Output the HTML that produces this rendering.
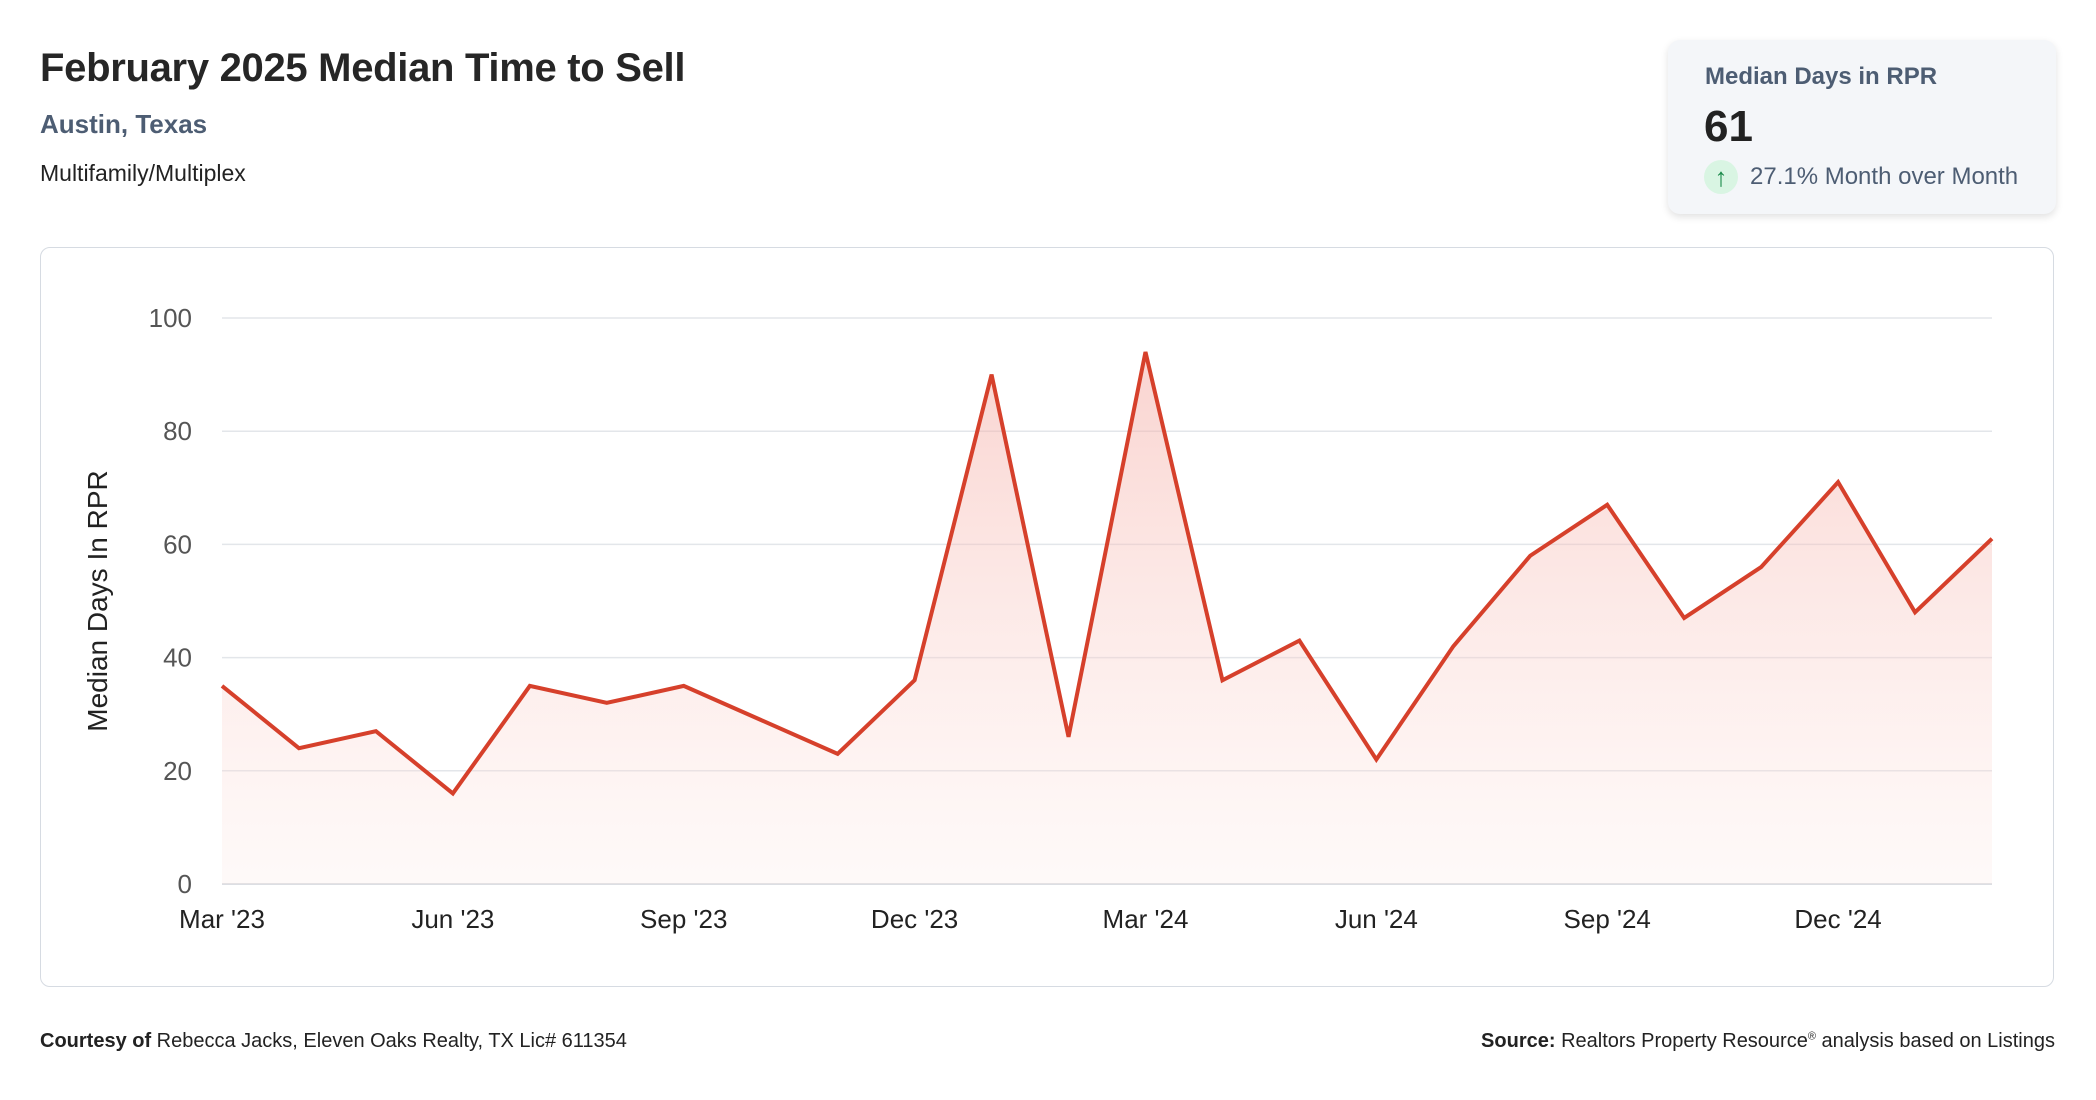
<!DOCTYPE html>
<html><head><meta charset="utf-8"><style>
body{margin:0;width:2096px;height:1100px;background:#fff;font-family:"Liberation Sans",sans-serif;position:relative;overflow:hidden;color:#222}
.a{position:absolute;white-space:nowrap}
</style></head><body>
<div class="a" style="left:40px;top:46px;font-size:40px;font-weight:bold;color:#262626;letter-spacing:-0.3px">February 2025 Median Time to Sell</div>
<div class="a" style="left:40px;top:109px;font-size:26px;font-weight:bold;color:#4d5d73">Austin, Texas</div>
<div class="a" style="left:40px;top:160px;font-size:23px;color:#222">Multifamily/Multiplex</div>
<div class="a" style="left:1668px;top:40px;width:388px;height:174px;background:#f4f6f9;border-radius:12px;box-shadow:0 3px 8px rgba(0,0,0,.12)">
  <div class="a" style="left:37px;top:23px;font-size:24px;font-weight:bold;color:#4d5d73">Median Days in RPR</div>
  <div class="a" style="left:36px;top:62px;font-size:44px;font-weight:bold;color:#222">61</div>
  <div class="a" style="left:36px;top:120px;width:34px;height:34px;border-radius:50%;background:#d9f5e3;color:#1a8a4a;font-size:26px;text-align:center;line-height:34px">↑</div>
  <div class="a" style="left:82px;top:123px;font-size:24px;color:#4d5d73">27.1% Month over Month</div>
</div>
<div class="a" style="left:40px;top:247px;width:2012px;height:738px;border:1.5px solid #d6dbe2;border-radius:10px"></div>
<svg class="a" style="left:0;top:0" width="2096" height="1100">
<defs><linearGradient id="g" x1="0" y1="0" x2="0" y2="1"><stop offset="0" stop-color="#f4a8a0" stop-opacity=".5"/><stop offset="1" stop-color="#fde8e4" stop-opacity=".25"/></linearGradient></defs>
<g id="grid"></g><g id="area"></g><g id="lines"></g><g id="labels"></g>
<text transform="translate(107,601) rotate(-90)" text-anchor="middle" font-size="28" fill="#222" font-family="Liberation Sans">Median Days In RPR</text>
</svg>
<div class="a" style="left:40px;top:1030px;font-size:20px;color:#222"><b>Courtesy of</b> Rebecca Jacks, Eleven Oaks Realty, TX Lic# 611354</div>
<div class="a" style="right:41px;top:1030px;font-size:20px;color:#222"><b>Source:</b> Realtors Property Resource<sup style="font-size:11px">®</sup> analysis based on Listings</div>
<script>
const months=["Mar '23","Apr '23","May '23","Jun '23","Jul '23","Aug '23","Sep '23","Oct '23","Nov '23","Dec '23","Jan '24","Feb '24","Mar '24","Apr '24","May '24","Jun '24","Jul '24","Aug '24","Sep '24","Oct '24","Nov '24","Dec '24","Jan '25","Feb '25"];
const values=[35,24,27,16,35,32,35,29,23,36,90,26,94,36,43,22,42,58,67,47,56,71,48,61];
const yTicks=[0,20,40,60,80,100];
const xTickIdx=[0,3,6,9,12,15,18,21];
const X0=222,X1=1992,Y0=884,Y1=318;
const x=i=>X0+(X1-X0)*i/(months.length-1);
const y=v=>Y0-(Y0-Y1)*v/100;
const NS="http://www.w3.org/2000/svg";
function mk(t,a,p){const e=document.createElementNS(NS,t);for(const k in a)e.setAttribute(k,a[k]);p.appendChild(e);return e;}
const grid=document.getElementById('grid'),labels=document.getElementById('labels');
yTicks.forEach(v=>{
 const l=mk('line',{x1:X0,x2:X1,y1:y(v),y2:y(v),stroke:v==0?'#d0d4da':'#e3e6ea','stroke-width':1.5},grid);
 
 
 const t=mk('text',{x:192,y:y(v)+9,'text-anchor':'end','font-size':26,fill:'#555','font-family':'Liberation Sans'},labels);
 t.textContent=v;
 
 
});
xTickIdx.forEach(i=>{
 const t=mk('text',{x:x(i),y:928,'text-anchor':'middle','font-size':26,fill:'#222','font-family':'Liberation Sans'},labels);
 t.textContent=months[i];
 
 
});
const pts=values.map((v,i)=>x(i)+','+y(v)).join(' ');
const ar=mk('polygon',{points:X0+','+Y0+' '+pts+' '+X1+','+Y0,fill:'url(#g)'},document.getElementById('area'));


const ln=mk('polyline',{points:pts,fill:'none',stroke:'#d6402b','stroke-width':4,'stroke-linejoin':'miter'},document.getElementById('lines'));


</script>
</body></html>
